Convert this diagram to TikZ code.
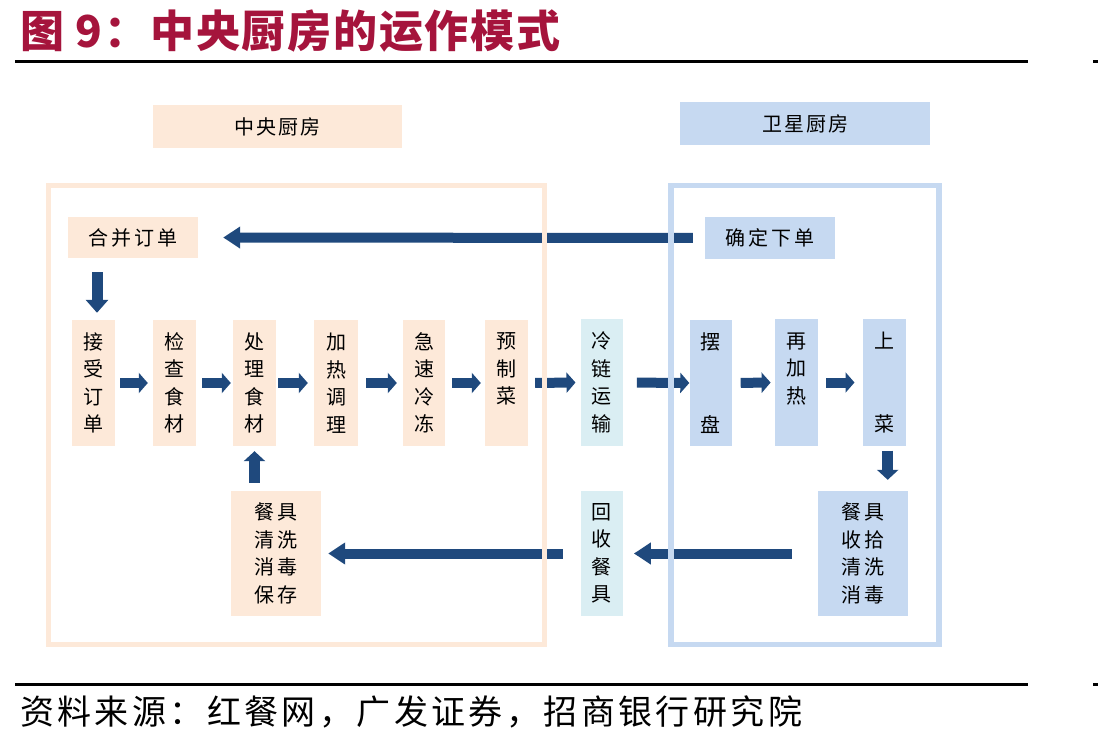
\documentclass[tikz,border=0pt]{standalone}
\usepackage{fontspec}
\newfontfamily\cjk{Noto Sans CJK SC}
\usetikzlibrary{arrows.meta}
\definecolor{peach}{HTML}{FDE9D9}
\definecolor{lblue}{HTML}{C6D9F1}
\definecolor{lcyan}{HTML}{DAEEF3}
\definecolor{arrowblue}{HTML}{1F497D}
\definecolor{titlered}{RGB}{165,20,60}
\tikzset{
  boxtxt/.style={inner sep=0pt, align=center, font=\cjk\fontsize{20}{27.5}\selectfont},
  pbox/.style={boxtxt, fill=peach},
  bbox/.style={boxtxt, fill=lblue},
  cbox/.style={boxtxt, fill=lcyan},
  sz/.style 2 args={minimum width=#1, minimum height=#2},
  arr/.style={draw=arrowblue, line width=10pt, -{Triangle[width=20pt,length=9pt]}},
  longarr/.style={draw=arrowblue, line width=10pt, -{Triangle[width=21pt,length=17pt]}},
  darr/.style={draw=arrowblue, line width=11pt, -{Triangle[width=21pt,length=10pt]}},
  frame/.style={line width=5.5pt},
  rule/.style={line width=3pt, black}
}
\begin{document}
\begin{tikzpicture}[x=1pt,y=-1pt]
\useasboundingbox (0,0) rectangle (1098,743);
% title and rules
\node[anchor=west, inner sep=0pt, text=titlered, font=\cjk\bfseries\fontsize{44}{44}\selectfont\addfontfeature{LetterSpace=4}] (title) at (20,31) {图 9：中央厨房的运作模式};
\draw[rule] (15,62) -- (1028,62);
\draw[rule] (1093,62) -- (1098,62);
\draw[rule] (15,684) -- (1028,684);
\draw[rule] (1093,684) -- (1098,684);
\node[anchor=west, inner sep=0pt, font=\cjk\fontsize{34}{34}\selectfont\addfontfeature{LetterSpace=10}] (src) at (20,712) {资料来源：红餐网，广发证券，招商银行研究院};

% group labels
\node[pbox, sz={249pt}{43pt}] (lab1) at (277.5,126.5) {中\kern2pt 央\kern2pt 厨\kern2pt 房};
\node[bbox, sz={250pt}{43pt}] (lab2) at (805,123.5) {卫\kern2pt 星\kern2pt 厨\kern2pt 房};

% top row
\node[pbox, sz={130pt}{41pt}] (hebing) at (133,237.5) {合\kern3pt 并\kern3pt 订\kern3pt 单};
\node[bbox, sz={130pt}{42pt}] (queding) at (770,238) {确\kern3pt 定\kern3pt 下\kern3pt 单};

% main row
\node[pbox, sz={43pt}{126pt}] (jieshou) at (93.5,383) {接\\受\\订\\单};
\node[pbox, sz={43pt}{126pt}] (jiancha) at (174.5,383) {检\\查\\食\\材};
\node[pbox, sz={43pt}{126pt}] (chuli) at (254.5,383) {处\\理\\食\\材};
\node[pbox, sz={44pt}{126pt}] (jiare) at (336,383) {加\\热\\调\\理};
\node[pbox, sz={42pt}{126pt}] (jisu) at (424,383) {急\\速\\冷\\冻};
\node[pbox, sz={43pt}{126pt}] (yuzhi) at (506.5,383) {预\\制\\菜\\\phantom{菜}};
\node[cbox, sz={42pt}{126pt}] (lenglian) at (601.7,382.5) {冷\\链\\运\\输};
\node[bbox, sz={42pt}{126pt}] (baipan) at (710.5,383) {摆\\\phantom{摆}\\\phantom{摆}\\盘};
\node[bbox, sz={43pt}{126pt}] (zaijiare) at (796.3,382.5) {再\\加\\热\\\phantom{热}};
\node[bbox, sz={43pt}{126pt}] (shangcai) at (884.2,382.5) {上\\\phantom{上}\\\phantom{上}\\菜};

% bottom row
\node[pbox, sz={90pt}{125pt}] (qingxi) at (276,553.5) {餐\kern3pt 具\\清\kern3pt 洗\\消\kern3pt 毒\\保\kern3pt 存};
\node[cbox, sz={42pt}{125pt}] (huishou) at (601.7,553.5) {回\\收\\餐\\具};
\node[bbox, sz={90pt}{125pt}] (shoushi) at (862.7,553.5) {餐\kern3pt 具\\收\kern3pt 拾\\清\kern3pt 洗\\消\kern3pt 毒};

% arrows
\draw[longarr, shorten <=12pt, shorten >=25pt] (queding.west) -- (hebing.east);
\draw[darr, shorten <=14pt, shorten >=7pt, -{Triangle[width=22pt,length=13pt]}] ([xshift=3.5pt]jieshou.north |- hebing.south) -- ([xshift=3.5pt]jieshou.north);
\draw[arr, shorten <=5pt, shorten >=5pt] (jieshou.east) -- (jiancha.west);
\draw[arr, shorten <=6pt, shorten >=2pt] (jiancha.east) -- (chuli.west);
\draw[arr, shorten <=2pt, shorten >=6pt] (chuli.east) -- (jiare.west);
\draw[arr, shorten <=8pt, shorten >=6pt] (jiare.east) -- (jisu.west);
\draw[arr, shorten <=7pt, shorten >=4pt] (jisu.east) -- (yuzhi.west);
\draw[arr, shorten <=7pt, shorten >=5pt] (yuzhi.east) -- (lenglian.west);
\draw[arr, shorten <=14pt, shorten >=0pt] (lenglian.east) -- (baipan.west);
\draw[arr, shorten <=9pt, shorten >=4pt] (baipan.east) -- (zaijiare.west);
\draw[arr, shorten <=8pt, shorten >=8pt] (zaijiare.east) -- (shangcai.west);
\draw[darr, shorten <=5pt, shorten >=11pt] ([xshift=3.5pt]shangcai.south) -- ([xshift=3.5pt]shangcai.south |- shoushi.north);
\draw[longarr, shorten <=26pt, shorten >=11pt] (shoushi.west) -- (huishou.east);
\draw[longarr, shorten <=18pt, shorten >=7pt] (huishou.west) -- (qingxi.east);
\draw[darr, shorten <=8pt, shorten >=5pt] (chuli.south |- qingxi.north) -- (chuli.south);

% frames (over the arrows)
\draw[frame, peach] (48.5,185.5) rectangle (544.5,644.5);
\draw[frame, lblue] (671,185.5) rectangle (939,644.5);
\end{tikzpicture}
\end{document}
